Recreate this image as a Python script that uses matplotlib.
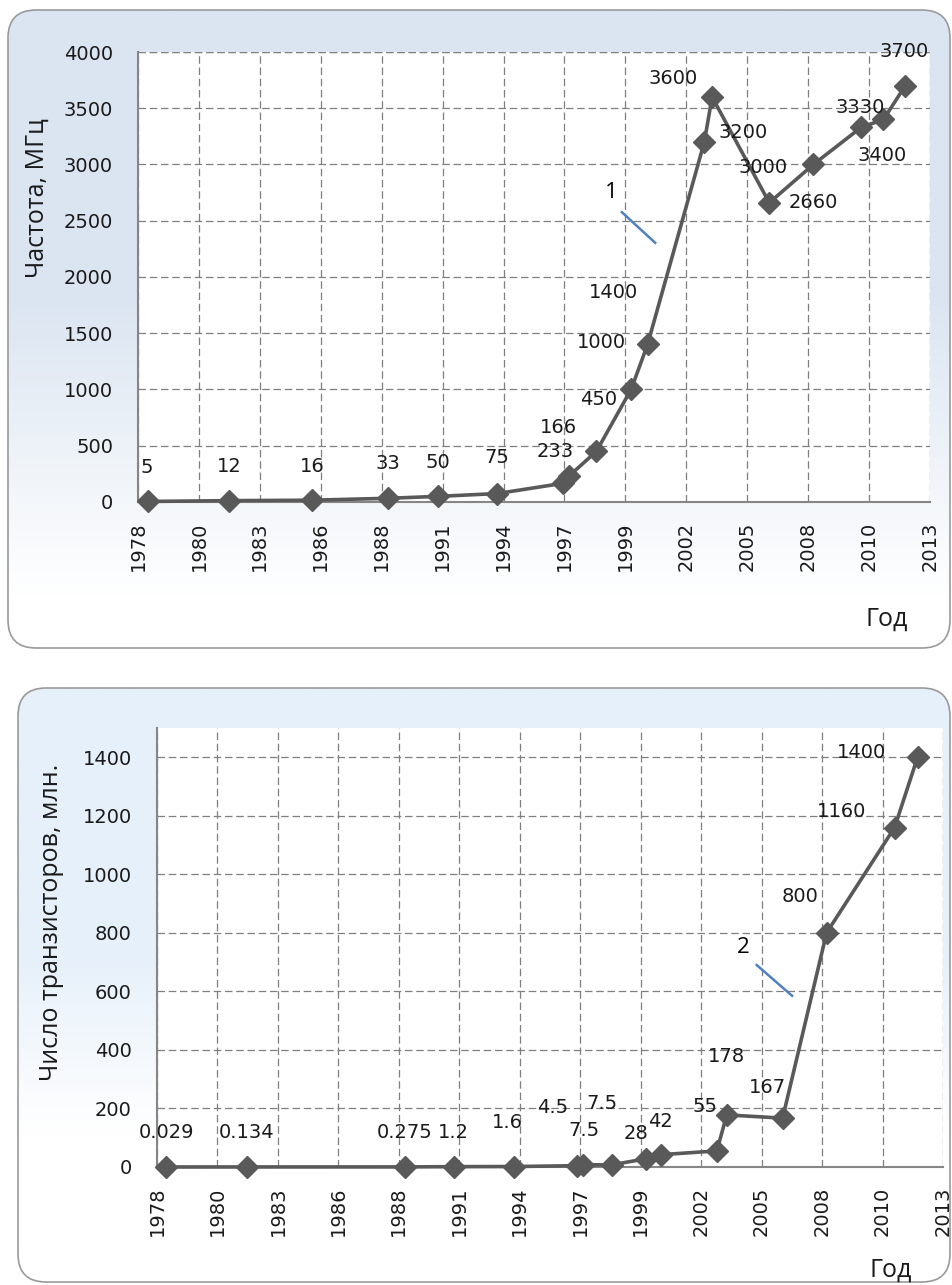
import matplotlib
matplotlib.use("Agg")
import matplotlib.pyplot as plt
import numpy as np
from matplotlib.patches import FancyBboxPatch
from matplotlib.colors import to_rgb

plt.rcParams['font.family'] = ['DejaVu Sans']

# --- data ---
freq_years = [1978.45, 1982.09, 1985.82, 1989.24, 1991.49, 1994.14, 1997.10, 1997.38,
              1998.60, 2000.16, 2000.90, 2003.45, 2003.80, 2006.37, 2008.35, 2010.50,
              2011.50, 2012.48]
freq_mhz = [5, 12, 16, 33, 50, 75, 166, 233, 450, 1000, 1400, 3200, 3600, 2660,
            3000, 3330, 3400, 3700]

trans_years = [1978.41, 1982.07, 1989.22, 1991.44, 1994.16, 1997.00, 1997.28, 1998.60,
               2000.13, 2000.80, 2003.35, 2003.80, 2006.33, 2008.32, 2011.40, 2012.44]
trans_mln = [0.029, 0.134, 0.275, 1.2, 1.6, 4.5, 7.5, 7.5, 28, 42, 55, 178, 167,
             800, 1160, 1400]

# label offsets in pixels (dx right, dy down)
freq_offsets = [(-1, -34), (0, -34), (0, -34), (0, -35), (0, -34), (0, -36), (-5, -56),
                (-14, -24), (2, -52), (-30, -47), (-34, -52), (39, -9), (-39, -19),
                (44, 0), (-50, 3), (-1, -20), (-1, 36), (-1, -34)]
trans_offsets = [(0, -34), (0, -34), (0, -34), (0, -34), (-6, -44), (-24, -58), (1, -34),
                 (-10, -61), (-10, -25), (0, -33), (-12, -44), (0, -58), (-15, -31),
                 (-27, -36), (-53, -16), (-56, -5)]

# date axis: Excel ticks every 1000 days from 1978
tick_pos = 1978 + np.arange(14) * 1000 / 365.25
tick_lab = [str(int(t)) for t in tick_pos]

W, H = 952, 1285
fig = plt.figure(figsize=(W / 100, H / 100), dpi=100)

# background panels with gradient
bg = fig.add_axes([0, 0, 1, 1], zorder=-5)
bg.set_xlim(0, W)
bg.set_ylim(H, 0)
bg.axis('off')


def panel(x0, y0, x1, y1, c_top, solid, fade):
    n = 256
    t = np.linspace(0, 1, n)
    a = np.clip((t - solid) / (fade - solid), 0, 1)
    ct = np.array(to_rgb(c_top))
    grad = ct[None, :] * (1 - a[:, None]) + np.ones(3)[None, :] * a[:, None]
    img = bg.imshow(grad[:, None, :], extent=(x0, x1, y1, y0), origin='upper',
                    aspect='auto', interpolation='bilinear')
    box = FancyBboxPatch((x0, y0), x1 - x0, y1 - y0,
                         boxstyle="round,pad=0,rounding_size=28",
                         facecolor='none', edgecolor='#9a9a9a', linewidth=1.2)
    bg.add_patch(box)
    img.set_clip_path(box)


panel(8, 10, 950, 648, '#dbe5f1', 0.45, 0.92)
panel(18, 688, 950, 1282, '#e6f0fa', 0.45, 0.75)

grid_kw = dict(color='#7f7f7f', linestyle=(0, (6, 3)), linewidth=0.9)
line_c = '#595959'


def setup(ax, ymax, yticks):
    ax.set_facecolor('white')
    ax.set_xlim(tick_pos[0], tick_pos[-1])
    ax.set_ylim(0, ymax)
    ax.set_xticks(tick_pos)
    ax.set_xticklabels(tick_lab, rotation=90)
    ax.set_yticks(yticks)
    ax.grid(True, **grid_kw)
    ax.set_axisbelow(True)
    for s in ('top', 'right'):
        ax.spines[s].set_visible(False)
    for s in ('left', 'bottom'):
        ax.spines[s].set_color('#868686')
        ax.spines[s].set_linewidth(1.5)
    ax.tick_params(length=0, labelsize=14, colors='#1a1a1a')
    ax.tick_params(axis='x', pad=14)
    ax.tick_params(axis='y', pad=18)


# top chart: clock frequency
ax1 = fig.add_axes([138 / W, 1 - 502 / H, 792 / W, 450 / H])
setup(ax1, 4000, np.arange(0, 4001, 500))
ax1.axhline(4000, **grid_kw)
ax1.plot(freq_years, freq_mhz, color=line_c, linewidth=2.6, marker='D',
         markersize=11, clip_on=False, zorder=3)
for x, y, (dx, dy) in zip(freq_years, freq_mhz, freq_offsets):
    ax1.annotate(f"{y:g}", (x, y), xytext=(dx, -dy), textcoords='offset pixels',
                 ha='center', va='center', fontsize=14, color='#1a1a1a', zorder=4)
ax1.plot([0.611, 0.653], [0.644, 0.576], transform=ax1.transAxes,
         color='#4f81bd', linewidth=1.8)
ax1.text(0.598, 0.687, "1", transform=ax1.transAxes, ha='center', va='center',
         fontsize=16, family='Open Sans')

# bottom chart: transistor count
ax2 = fig.add_axes([157 / W, 1 - 1167 / H, 786 / W, 439 / H])
setup(ax2, 1500, np.arange(0, 1401, 200))
ax2.plot(trans_years, trans_mln, color=line_c, linewidth=2.6, marker='D',
         markersize=11, clip_on=False, zorder=3)
for x, y, (dx, dy) in zip(trans_years, trans_mln, trans_offsets):
    ax2.annotate(f"{y:g}", (x, y), xytext=(dx, -dy), textcoords='offset pixels',
                 ha='center', va='center', fontsize=14, color='#1a1a1a', zorder=4)
ax2.plot([0.763, 0.808], [0.460, 0.390], transform=ax2.transAxes,
         color='#4f81bd', linewidth=1.8)
ax2.text(0.746, 0.499, "2", transform=ax2.transAxes, ha='center', va='center',
         fontsize=16, family='Open Sans')

# axis titles
fig.text(37 / W, 1 - 198 / H, "Частота, МГц", rotation=90, ha='center', va='center',
         fontsize=18, family='Open Sans', color='#1a1a1a')
fig.text(52 / W, 1 - 922 / H, "Число транзисторов, млн.", rotation=90, ha='center',
         va='center', fontsize=18, family='Open Sans', color='#1a1a1a')
fig.text(887 / W, 1 - 619 / H, "Год", ha='center', va='center', fontsize=18,
         family='Open Sans', color='#1a1a1a')
fig.text(891 / W, 1 - 1270 / H, "Год", ha='center', va='center', fontsize=18,
         family='Open Sans', color='#1a1a1a')

fig.savefig("out.png", dpi=100)
